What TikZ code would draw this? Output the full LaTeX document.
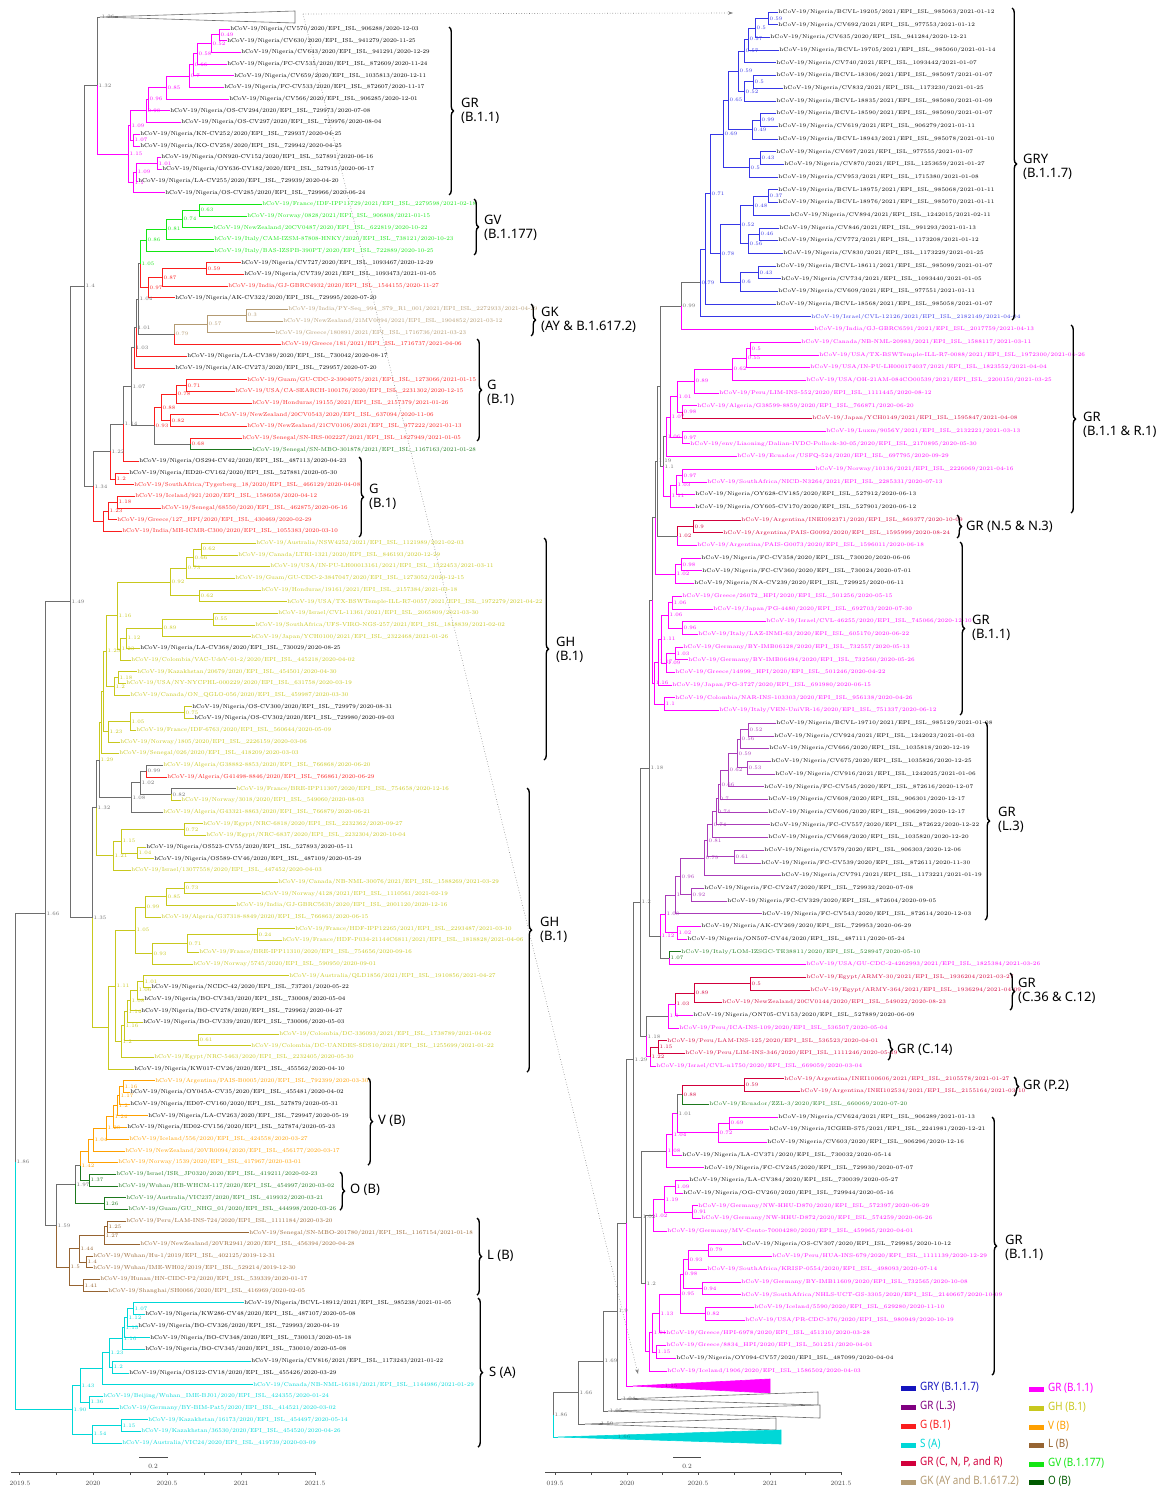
\documentclass[tikz,border=0pt]{standalone}
\usepackage{fontspec}
\usepackage{graphicx}
\usetikzlibrary{calc,decorations.pathreplacing,arrows.meta}
\newfontfamily\cladefont{Noto Sans}
\definecolor{treegray}{RGB}{110,110,110}
\definecolor{cGRY}{RGB}{55,55,230}
\definecolor{cGR}{RGB}{255,0,255}
\definecolor{cL3}{RGB}{170,60,185}
\definecolor{cG}{RGB}{250,30,30}
\definecolor{cGH}{RGB}{200,200,30}
\definecolor{cS}{RGB}{0,215,215}
\definecolor{cV}{RGB}{255,160,0}
\definecolor{cCNPR}{RGB}{210,0,60}
\definecolor{cL}{RGB}{150,100,50}
\definecolor{cGK}{RGB}{180,155,115}
\definecolor{cGV}{RGB}{20,230,20}
\definecolor{cO}{RGB}{30,120,30}
\definecolor{legGRY}{RGB}{20,20,190}
\definecolor{legL3}{RGB}{128,0,128}
\definecolor{legO}{RGB}{0,90,0}
\tikzset{
  branch/.style    = {line width=0.7pt},
  leaf/.style      = {anchor=west, inner sep=0.6pt, font=\fontsize{5.75}{6.5}\selectfont},
  rleaf/.style     = {leaf, font=\fontsize{5.4}{6.5}\selectfont},
  supval/.style    = {anchor=west, inner sep=0.5pt, xshift=1pt, font=\fontsize{5.2}{6}\selectfont},
  clade/.style     = {anchor=west, align=left, inner sep=0pt,
                      font=\cladefont\fontsize{13}{13.5}\selectfont},
  cladebrace/.style= {decorate, decoration={brace, amplitude=4.5pt}, line width=1.4pt},
  collapsed/.style = {draw=treegray, line width=0.6pt},
  zoomline/.style  = {draw=gray, dotted, line width=0.6pt, -{Stealth[length=5pt,width=3.5pt]}},
  legbar/.style    = {minimum width=15pt, minimum height=5pt, inner sep=0pt},
  legtext/.style   = {anchor=west, inner sep=0pt, font=\cladefont\fontsize{11.5}{12}\selectfont},
  axisline/.style  = {draw=black!70, line width=0.5pt},
  axislab/.style   = {text=black!75, inner sep=0pt, font=\fontsize{6.5}{7}\selectfont}
}
% leaf of the left tree: row, x, text colour, name, EPI number, date
\newcommand{\lfl}[6]{%
  \coordinate (lf#1) at ({#2-1.5},{29+(#1-1)*11.686});
  \node[leaf,text=#3] (lf#1-t) at (lf#1) {hCoV-19/#4/EPI\_ISL\_#5/#6};}
% leaf of the right tree
\newcommand{\lfr}[6]{%
  \coordinate (rt#1) at ({#2-1.5},{12+(#1-1)*12.7});
  \node[rleaf,text=#3] (rt#1-t) at (rt#1) {hCoV-19/#4/EPI\_ISL\_#5/#6};}
% inner node: name, x, child 1, colour, child 2, colour, support value
\newcommand{\cl}[7]{%
  \path let \p1=($(#3)!0.5!(#5)$) in coordinate (#1) at (#2pt,\y1);
  \draw[branch,#4] (#1) |- (#3);
  \draw[branch,#6] (#1) |- (#5);
  \node[supval,text=#4] (#1-s) at (#1) {#7};}

\begin{document}
\begin{tikzpicture}[x=1pt,y=-1pt]
\useasboundingbox (0,0) rectangle (1163,1490);

% ---------------- left tree, leaves
\lfl{1}{231}{black}{Nigeria/CV570/2020}{906288}{2020-12-03}
\lfl{2}{228}{black}{Nigeria/CV630/2020}{941279}{2020-11-25}
\lfl{3}{242}{black}{Nigeria/CV643/2020}{941291}{2020-12-29}
\lfl{4}{228}{black}{Nigeria/FC-CV535/2020}{872609}{2020-11-24}
\lfl{5}{235}{black}{Nigeria/CV659/2020}{1035813}{2020-12-11}
\lfl{6}{225}{black}{Nigeria/FC-CV533/2020}{872607}{2020-11-17}
\lfl{7}{230}{black}{Nigeria/CV566/2020}{906285}{2020-12-01}
\lfl{8}{171}{black}{Nigeria/OS-CV294/2020}{729973}{2020-07-08}
\lfl{9}{182}{black}{Nigeria/OS-CV297/2020}{729976}{2020-08-04}
\lfl{10}{141}{black}{Nigeria/KN-CV252/2020}{729937}{2020-04-25}
\lfl{11}{141}{black}{Nigeria/KO-CV258/2020}{729942}{2020-04-25}
\lfl{12}{162}{black}{Nigeria/ON920-CV152/2020}{527891}{2020-06-16}
\lfl{13}{163}{black}{Nigeria/OY636-CV182/2020}{527915}{2020-06-17}
\lfl{14}{139}{black}{Nigeria/LA-CV255/2020}{729939}{2020-04-20}
\lfl{15}{166}{black}{Nigeria/OS-CV285/2020}{729966}{2020-06-24}
\lfl{16}{263}{cGV}{France/IDF-IPP11729/2021}{2279598}{2021-02-18}
\lfl{17}{248}{cGV}{Norway/0828/2021}{906808}{2021-01-15}
\lfl{18}{214}{cGV}{NewZealand/20CV0487/2020}{622819}{2020-10-22}
\lfl{19}{215}{cGV}{Italy/CAM-IZSM-87808-HNKY/2020}{738121}{2020-10-23}
\lfl{20}{215}{cGV}{Italy/BAS-IZSPB-390PT/2020}{722889}{2020-10-25}
\lfl{21}{242}{black}{Nigeria/CV727/2020}{1093467}{2020-12-29}
\lfl{22}{245}{black}{Nigeria/CV739/2021}{1093473}{2021-01-05}
\lfl{23}{229}{cG}{India/GJ-GBRC4932/2020}{1544155}{2020-11-27}
\lfl{24}{176}{black}{Nigeria/AK-CV322/2020}{729995}{2020-07-20}
\lfl{25}{289}{cGK}{India/PY-Seq\_994\_S79\_R1\_001/2021}{2272933}{2021-04-29}
\lfl{26}{284}{cGK}{NewZealand/21MV0094/2021}{1904852}{2021-03-12}
\lfl{27}{276}{cGK}{Greece/180891/2021}{1716736}{2021-03-23}
\lfl{28}{282}{cG}{Greece/181/2021}{1716737}{2021-04-06}
\lfl{29}{188}{black}{Nigeria/LA-CV389/2020}{730042}{2020-08-17}
\lfl{30}{176}{black}{Nigeria/AK-CV273/2020}{729957}{2020-07-20}
\lfl{31}{248}{cG}{Guam/GU-CDC-2-3904075/2021}{1273066}{2021-01-15}
\lfl{32}{236}{cG}{USA/CA-SEARCH-100176/2020}{2231302}{2020-12-15}
\lfl{33}{253}{cG}{Honduras/19155/2021}{2157379}{2021-01-26}
\lfl{34}{220}{cG}{NewZealand/20CV0543/2020}{637094}{2020-11-06}
\lfl{35}{248}{cG}{NewZealand/21CV0106/2021}{977222}{2021-01-13}
\lfl{36}{243}{cG}{Senegal/SN-IRS-002227/2021}{1827949}{2021-01-05}
\lfl{37}{253}{cO}{Senegal/SN-MBO-301878/2021}{1167163}{2021-01-28}
\lfl{38}{140}{black}{Nigeria/OS294-CV42/2020}{487113}{2020-04-23}
\lfl{39}{130}{black}{Nigeria/ED20-CV162/2020}{527881}{2020-05-30}
\lfl{40}{135}{cG}{SouthAfrica/Tygerberg\_18/2020}{466129}{2020-04-08}
\lfl{41}{136}{cG}{Iceland/921/2020}{1586058}{2020-04-12}
\lfl{42}{162}{cG}{Senegal/68550/2020}{462875}{2020-06-16}
\lfl{43}{118}{cG}{Greece/127\_HPI/2020}{430469}{2020-02-29}
\lfl{44}{123}{cG}{India/MH-ICMR-C300/2020}{1055383}{2020-03-10}
\lfl{45}{257}{cGH}{Australia/NSW4252/2021}{1121989}{2021-02-03}
\lfl{46}{239}{cGH}{Canada/LTRI-1321/2020}{846193}{2020-12-29}
\lfl{47}{271}{cGH}{USA/IN-PU-LH00013161/2021}{1522453}{2021-03-11}
\lfl{48}{236}{cGH}{Guam/GU-CDC-2-3847047/2020}{1273052}{2020-12-15}
\lfl{49}{262}{cGH}{Honduras/19161/2021}{2157384}{2021-03-18}
\lfl{50}{288}{cGH}{USA/TX-BSWTemple-ILL-R7-0057/2021}{1972279}{2021-04-22}
\lfl{51}{279}{cGH}{Israel/CVL-11361/2021}{2065809}{2021-03-30}
\lfl{52}{256}{cGH}{SouthAfrica/UFS-VIRO-NGS-257/2021}{1818839}{2021-02-02}
\lfl{53}{252}{cGH}{Japan/YCH0100/2021}{2322468}{2021-01-26}
\lfl{54}{141}{black}{Nigeria/LA-CV368/2020}{730029}{2020-08-25}
\lfl{55}{132}{cGH}{Colombia/VAC-UdeV-01-2/2020}{445218}{2020-04-02}
\lfl{56}{138}{cGH}{Kazakhstan/20679/2020}{454501}{2020-04-30}
\lfl{57}{127}{cGH}{USA/NY-NYCPHL-000229/2020}{631758}{2020-03-19}
\lfl{58}{131}{cGH}{Canada/ON\_QGLO-056/2020}{459987}{2020-03-30}
\lfl{59}{193}{black}{Nigeria/OS-CV300/2020}{729979}{2020-08-31}
\lfl{60}{195}{black}{Nigeria/OS-CV302/2020}{729980}{2020-09-03}
\lfl{61}{137}{cGH}{France/IDF-6763/2020}{560644}{2020-05-09}
\lfl{62}{121}{cGH}{Norway/1805/2020}{2226159}{2020-03-06}
\lfl{63}{120}{cGH}{Senegal/026/2020}{418209}{2020-03-03}
\lfl{64}{164}{cGH}{Algeria/G38882-8853/2020}{766868}{2020-06-20}
\lfl{65}{168}{cG}{Algeria/G41498-8846/2020}{766861}{2020-06-29}
\lfl{66}{237}{cGH}{France/BRE-IPP11307/2020}{754658}{2020-12-16}
\lfl{67}{182}{cGH}{Norway/3018/2020}{549060}{2020-08-03}
\lfl{68}{164}{cGH}{Algeria/G43321-8863/2020}{766879}{2020-06-21}
\lfl{69}{204}{cGH}{Egypt/NRC-6818/2020}{2232362}{2020-09-27}
\lfl{70}{207}{cGH}{Egypt/NRC-6837/2020}{2232304}{2020-10-04}
\lfl{71}{147}{black}{Nigeria/OS523-CV55/2020}{527893}{2020-05-11}
\lfl{72}{155}{black}{Nigeria/OS589-CV46/2020}{487109}{2020-05-29}
\lfl{73}{132}{cGH}{Israel/13077558/2020}{447452}{2020-04-03}
\lfl{74}{279}{cGH}{Canada/NB-NML-30076/2021}{1588269}{2021-03-29}
\lfl{75}{262}{cGH}{Norway/4128/2021}{1110561}{2021-02-19}
\lfl{76}{237}{cGH}{India/GJ-GBRC563b/2020}{2001120}{2020-12-16}
\lfl{77}{162}{cGH}{Algeria/G37318-8849/2020}{766863}{2020-06-15}
\lfl{78}{296}{cGH}{France/HDF-IPP12265/2021}{2293487}{2021-03-10}
\lfl{79}{283}{cGH}{France/HDF-P034-21144C6811/2021}{1818828}{2021-04-06}
\lfl{80}{200}{cGH}{France/BRE-IPP11310/2020}{754656}{2020-09-16}
\lfl{81}{194}{cGH}{Norway/5745/2020}{590950}{2020-09-01}
\lfl{82}{290}{cGH}{Australia/QLD1856/2021}{1910856}{2021-04-27}
\lfl{83}{152}{black}{Nigeria/NCDC-42/2020}{737201}{2020-05-22}
\lfl{84}{145}{black}{Nigeria/BO-CV343/2020}{730008}{2020-05-04}
\lfl{85}{142}{black}{Nigeria/BO-CV278/2020}{729962}{2020-04-27}
\lfl{86}{144}{black}{Nigeria/BO-CV339/2020}{730006}{2020-05-03}
\lfl{87}{280}{cGH}{Colombia/DC-336093/2021}{1738789}{2021-04-02}
\lfl{88}{252}{cGH}{Colombia/DC-UANDES-SDS10/2021}{1255699}{2021-01-22}
\lfl{89}{155}{cGH}{Egypt/NRC-5463/2020}{2232405}{2020-05-30}
\lfl{90}{135}{black}{Nigeria/KW017-CV26/2020}{455562}{2020-04-10}
\lfl{91}{156}{cV}{Argentina/PAIS-B0005/2020}{792399}{2020-03-30}
\lfl{92}{131}{black}{Nigeria/OY045A-CV35/2020}{455481}{2020-04-02}
\lfl{93}{131}{black}{Nigeria/ED07-CV160/2020}{527879}{2020-05-31}
\lfl{94}{149}{black}{Nigeria/LA-CV263/2020}{729947}{2020-05-19}
\lfl{95}{128}{black}{Nigeria/ED02-CV156/2020}{527874}{2020-05-23}
\lfl{96}{130}{cV}{Iceland/556/2020}{424558}{2020-03-27}
\lfl{97}{126}{cV}{NewZealand/20VR0094/2020}{456177}{2020-03-17}
\lfl{98}{119}{cV}{Norway/1539/2020}{417967}{2020-03-01}
\lfl{99}{117}{cO}{Israel/ISR\_JP0320/2020}{419211}{2020-02-23}
\lfl{100}{119}{cO}{Wuhan/HB-WHCM-117/2020}{454997}{2020-03-02}
\lfl{101}{127}{cO}{Australia/VIC237/2020}{419932}{2020-03-21}
\lfl{102}{129}{cO}{Guam/GU\_NHG\_01/2020}{444998}{2020-03-26}
\lfl{103}{127}{cL}{Peru/LAM-INS-724/2020}{1111184}{2020-03-20}
\lfl{104}{250}{cL}{Senegal/SN-MBO-201780/2021}{1167154}{2021-01-18}
\lfl{105}{141}{cL}{NewZealand/20VR2941/2020}{456394}{2020-04-28}
\lfl{106}{94}{cL}{Wuhan/Hu-1/2019}{402125}{2019-12-31}
\lfl{107}{94}{cL}{Wuhan/IME-WH02/2019}{529214}{2019-12-30}
\lfl{108}{101}{cL}{Hunan/HN-CIDC-P2/2020}{539339}{2020-01-17}
\lfl{109}{109}{cL}{Shanghai/SH0066/2020}{416969}{2020-02-05}
\lfl{110}{245}{black}{Nigeria/BCVL-18912/2021}{985238}{2021-01-05}
\lfl{111}{146}{black}{Nigeria/KW286-CV48/2020}{487107}{2020-05-08}
\lfl{112}{139}{black}{Nigeria/BO-CV326/2020}{729993}{2020-04-19}
\lfl{113}{151}{black}{Nigeria/BO-CV348/2020}{730013}{2020-05-18}
\lfl{114}{146}{black}{Nigeria/BO-CV345/2020}{730010}{2020-05-08}
\lfl{115}{252}{black}{Nigeria/CV816/2021}{1173243}{2021-01-22}
\lfl{116}{130}{black}{Nigeria/OS122-CV18/2020}{455426}{2020-03-29}
\lfl{117}{254}{cS}{Canada/NB-NML-16181/2021}{1144986}{2021-01-29}
\lfl{118}{104}{cS}{Beijing/Wuhan\_IME-BJ01/2020}{424355}{2020-01-24}
\lfl{119}{120}{cS}{Germany/BY-BIM-Pat5/2020}{414521}{2020-03-02}
\lfl{120}{149}{cS}{Kazakhstan/16173/2020}{454497}{2020-05-14}
\lfl{121}{142}{cS}{Kazakhstan/36530/2020}{454520}{2020-04-26}
\lfl{122}{123}{cS}{Australia/VIC24/2020}{419739}{2020-03-09}

% ---------------- left tree, inner nodes
\coordinate (gryApex) at (100,17);
\draw[collapsed,fill=white] (gryApex) -- (295,11) -- (295,23) -- cycle;
\node[supval,text=treegray] (gry-s) at (gryApex) {1.26};
\cl{pA}{219}{lf1}{cGR}{lf2}{cGR}{0.49}
\cl{pB}{211}{pA}{cGR}{lf3}{cGR}{0.52}
\cl{pC}{197}{pB}{cGR}{lf4}{cGR}{0.58}
\cl{pD}{193}{pC}{cGR}{lf5}{cGR}{0.66}
\cl{pE}{189}{pD}{cGR}{lf6}{cGR}{0.7}
\cl{pF}{166}{pE}{cGR}{lf7}{cGR}{0.85}
\cl{pG}{148}{pF}{cGR}{lf8}{cGR}{0.96}
\cl{pH}{146}{pG}{cGR}{lf9}{cGR}{0.98}
\cl{pI}{133}{lf10}{cGR}{lf11}{cGR}{1.07}
\cl{pJ}{130}{pH}{cGR}{pI}{cGR}{1.09}
\cl{pK}{157}{lf12}{cGR}{lf13}{cGR}{1.01}
\cl{pL}{136}{pK}{cGR}{lf14}{cGR}{1.09}
\cl{pM}{133}{pL}{cGR}{lf15}{cGR}{1.1}
\cl{pR}{128}{pJ}{cGR}{pM}{cGR}{1.15}
\cl{N1}{97}{gryApex}{treegray}{pR}{cGR}{1.32}
\cl{v1}{199}{lf16}{cGV}{lf17}{cGV}{0.63}
\cl{v2}{182}{v1}{cGV}{lf18}{cGV}{0.74}
\cl{v3}{166}{v2}{cGV}{lf19}{cGV}{0.81}
\cl{v4}{146}{v3}{cGV}{lf20}{cGV}{0.86}
\cl{g21}{206}{lf21}{cG}{lf22}{cG}{0.59}
\cl{g22}{162}{g21}{cG}{lf23}{cG}{0.87}
\cl{g23}{148}{g22}{cG}{lf24}{cG}{0.97}
\cl{v5}{140}{v4}{cGV}{g23}{cG}{1.05}
\cl{k1}{246}{lf25}{cGK}{lf26}{cGK}{0.3}
\cl{k2}{207}{k1}{cGK}{lf27}{cGK}{0.57}
\cl{k3}{174}{k2}{cGK}{lf28}{cG}{0.79}
\cl{g24}{138}{v5}{treegray}{k3}{treegray}{1.04}
\cl{g25}{136}{g24}{treegray}{lf29}{cG}{1.01}
\cl{g26}{134}{g25}{treegray}{lf30}{cG}{1.03}
\cl{q1}{186}{lf31}{cG}{lf32}{cG}{0.71}
\cl{q2}{176}{q1}{cG}{lf33}{cG}{0.78}
\cl{q3}{170}{lf34}{cG}{lf35}{cG}{0.82}
\cl{q4}{161}{q2}{cG}{q3}{cG}{0.88}
\cl{q5}{190}{lf36}{cG}{lf37}{cO}{0.68}
\cl{q6}{154}{q4}{cG}{q5}{treegray}{0.93}
\cl{G1b}{131}{g26}{treegray}{q6}{treegray}{1.07}
\cl{G1}{123}{G1b}{treegray}{lf38}{cG}{1.14}
\cl{g39}{115}{lf39}{cG}{lf40}{cG}{1.2}
\cl{G0}{110}{G1}{treegray}{g39}{cG}{1.22}
\cl{g41}{117}{lf41}{cG}{lf42}{cG}{1.18}
\cl{g43}{108}{g41}{cG}{lf43}{cG}{1.23}
\cl{g44}{103}{g43}{cG}{lf44}{cG}{}
\cl{N3}{93}{G0}{treegray}{g44}{cG}{1.34}
\cl{N2}{84}{N1}{treegray}{N3}{treegray}{1.4}
\cl{y1}{201}{lf45}{cGH}{lf46}{cGH}{0.62}
\cl{y2}{193}{y1}{cGH}{lf47}{cGH}{0.66}
\cl{y3}{186}{y2}{cGH}{lf48}{cGH}{0.73}
\cl{y4}{199}{lf49}{cGH}{lf50}{cGH}{0.62}
\cl{y5}{170}{y3}{cGH}{y4}{cGH}{0.92}
\cl{y6}{213}{lf51}{cGH}{lf52}{cGH}{0.55}
\cl{y7}{162}{y6}{cGH}{lf53}{cGH}{0.89}
\cl{y8}{126}{y7}{cGH}{lf54}{cGH}{1.12}
\cl{y9}{120}{y8}{cGH}{lf55}{cGH}{1.23}
\cl{y10}{117}{y5}{cGH}{y9}{cGH}{1.16}
\cl{y11}{118}{lf56}{cGH}{lf57}{cGH}{1.18}
\cl{y12}{114}{y11}{cGH}{lf58}{cGH}{1.2}
\cl{y13}{106}{y10}{cGH}{y12}{cGH}{1.25}
\cl{y14}{184}{lf59}{cGH}{lf60}{cGH}{0.75}
\cl{y15}{130}{y14}{cGH}{lf61}{cGH}{1.05}
\cl{y16}{108}{y15}{cGH}{lf62}{cGH}{1.23}
\cl{y17}{103}{y13}{cGH}{y16}{cGH}{}
\cl{y18}{101}{y17}{cGH}{lf63}{cGH}{}
\cl{y19}{146}{lf64}{treegray}{lf65}{cG}{0.99}
\cl{y20}{171}{lf66}{treegray}{lf67}{cGH}{0.82}
\cl{y21}{140}{y19}{treegray}{y20}{treegray}{1.02}
\cl{y22}{131}{y21}{treegray}{lf68}{treegray}{1.08}
\cl{y23}{99}{y18}{cGH}{y22}{treegray}{1.29}
\cl{y24}{184}{lf69}{cGH}{lf70}{cGH}{0.72}
\cl{y25}{137}{lf71}{cGH}{lf72}{cGH}{1.04}
\cl{y26}{121}{y24}{cGH}{y25}{cGH}{1.15}
\cl{y27}{113}{y26}{cGH}{lf73}{cGH}{1.21}
\cl{y28}{96}{y23}{treegray}{y27}{cGH}{1.32}
\cl{z1}{184}{lf74}{cGH}{lf75}{cGH}{0.73}
\cl{z2}{166}{z1}{cGH}{lf76}{cGH}{0.85}
\cl{z3}{145}{z2}{cGH}{lf77}{cGH}{0.99}
\cl{z4}{257}{lf78}{cGH}{lf79}{cGH}{0.24}
\cl{z5}{187}{z4}{cGH}{lf80}{cGH}{0.71}
\cl{z6}{152}{z5}{cGH}{lf81}{cGH}{0.93}
\cl{z7}{135}{z3}{cGH}{z6}{cGH}{1.05}
\cl{z8}{143}{lf82}{cGH}{lf83}{cGH}{1.01}
\cl{z9}{137}{z8}{cGH}{lf84}{cGH}{1.06}
\cl{z10}{130}{z9}{cGH}{lf85}{cGH}{1.08}
\cl{z11}{127}{z10}{cGH}{lf86}{cGH}{1.14}
\cl{z12}{198}{lf87}{cGH}{lf88}{cGH}{0.61}
\cl{z13}{124}{z11}{cGH}{z12}{cGH}{1.16}
\cl{z14}{121}{z13}{cGH}{lf89}{cGH}{1.2}
\cl{z15}{115}{z7}{cGH}{z14}{cGH}{1.11}
\cl{z16}{108}{z15}{cGH}{lf90}{cGH}{}
\cl{N5}{92}{y28}{treegray}{z16}{cGH}{1.35}
\cl{N4}{70}{N2}{treegray}{N5}{treegray}{1.49}
\cl{o1}{123}{lf91}{cV}{lf92}{cV}{1.16}
\cl{o2}{119}{o1}{cV}{lf93}{cV}{1.17}
\cl{o3}{117}{o2}{cV}{lf94}{cV}{1.2}
\cl{o4}{113}{o3}{cV}{lf95}{cV}{1.24}
\cl{o5}{106}{o4}{cV}{lf96}{cV}{1.28}
\cl{o6}{93}{o5}{cV}{lf97}{cV}{1.04}
\cl{o7}{88}{o6}{cV}{lf98}{cV}{}
\cl{d1}{89}{lf99}{cO}{lf100}{cO}{1.37}
\cl{d2}{104}{lf101}{cO}{lf102}{cO}{1.26}
\cl{vo1}{80}{o7}{cV}{d1}{cO}{1.42}
\cl{vo2}{75}{vo1}{treegray}{d2}{cO}{1.97}
\cl{l1}{107}{lf103}{cL}{lf104}{cL}{1.25}
\cl{l2}{104}{l1}{cL}{lf105}{cL}{1.27}
\cl{l3}{86}{lf106}{cL}{lf107}{cL}{1.4}
\cl{l4}{79}{l2}{cL}{l3}{cL}{1.44}
\cl{l5}{83}{lf108}{cL}{lf109}{cL}{1.41}
\cl{l6}{69}{l4}{cL}{l5}{cL}{1.5}
\cl{C}{56}{vo2}{treegray}{l6}{cL}{1.59}
\cl{A}{45}{N4}{treegray}{C}{treegray}{1.66}
\cl{s1}{133}{lf110}{cS}{lf111}{cS}{1.07}
\cl{s2}{127}{s1}{cS}{lf112}{cS}{1.12}
\cl{s3}{124}{s2}{cS}{lf113}{cS}{1.15}
\cl{s4}{122}{s3}{cS}{lf114}{cS}{1.16}
\cl{s5}{112}{lf115}{cS}{lf116}{cS}{1.2}
\cl{s6}{109}{s4}{cS}{s5}{cS}{1.23}
\cl{s7}{102}{s6}{cS}{lf117}{cS}{}
\cl{s8}{89}{lf118}{cS}{lf119}{cS}{1.36}
\cl{s9}{80}{s7}{cS}{s8}{cS}{1.43}
\cl{s10}{121}{lf120}{cS}{lf121}{cS}{1.15}
\cl{s11}{92}{s10}{cS}{lf122}{cS}{1.54}
\cl{s12}{72}{s9}{cS}{s11}{cS}{1.90}
\cl{R}{15}{A}{treegray}{s12}{cS}{1.86}

% ---------------- right tree, leaves
\lfr{1}{779}{black}{Nigeria/BCVL-19205/2021}{985063}{2021-01-12}
\lfr{2}{779}{black}{Nigeria/CV692/2021}{977553}{2021-01-12}
\lfr{3}{771}{black}{Nigeria/CV635/2020}{941284}{2020-12-21}
\lfr{4}{780}{black}{Nigeria/BCVL-19705/2021}{985060}{2021-01-14}
\lfr{5}{777}{black}{Nigeria/CV740/2021}{1093442}{2021-01-07}
\lfr{6}{777}{black}{Nigeria/BCVL-18306/2021}{985097}{2021-01-07}
\lfr{7}{784}{black}{Nigeria/CV832/2021}{1173230}{2021-01-25}
\lfr{8}{777}{black}{Nigeria/BCVL-18835/2021}{985080}{2021-01-09}
\lfr{9}{777}{black}{Nigeria/BCVL-18590/2021}{985090}{2021-01-07}
\lfr{10}{779}{black}{Nigeria/CV619/2021}{906279}{2021-01-11}
\lfr{11}{779}{black}{Nigeria/BCVL-18943/2021}{985078}{2021-01-10}
\lfr{12}{777}{black}{Nigeria/CV697/2021}{977555}{2021-01-07}
\lfr{13}{785}{black}{Nigeria/CV870/2021}{1253659}{2021-01-27}
\lfr{14}{779}{black}{Nigeria/CV953/2021}{1715380}{2021-01-08}
\lfr{15}{779}{black}{Nigeria/BCVL-18975/2021}{985068}{2021-01-11}
\lfr{16}{779}{black}{Nigeria/BCVL-18976/2021}{985070}{2021-01-11}
\lfr{17}{791}{black}{Nigeria/CV894/2021}{1242015}{2021-02-11}
\lfr{18}{780}{black}{Nigeria/CV846/2021}{991293}{2021-01-13}
\lfr{19}{779}{black}{Nigeria/CV772/2021}{1173208}{2021-01-12}
\lfr{20}{784}{black}{Nigeria/CV830/2021}{1173229}{2021-01-25}
\lfr{21}{777}{black}{Nigeria/BCVL-18611/2021}{985099}{2021-01-07}
\lfr{22}{782}{black}{Nigeria/CV734/2021}{1093440}{2021-01-05}
\lfr{23}{779}{black}{Nigeria/CV609/2021}{977551}{2021-01-11}
\lfr{24}{777}{black}{Nigeria/BCVL-18568/2021}{985058}{2021-01-07}
\lfr{25}{812}{cGRY}{Israel/CVL-12126/2021}{2182149}{2021-04-04}
\lfr{26}{815}{cGR}{India/GJ-GBRC6591/2021}{2017759}{2021-04-13}
\lfr{27}{802}{cGR}{Canada/NB-NML-20983/2021}{1588117}{2021-03-11}
\lfr{28}{820}{cGR}{USA/TX-BSWTemple-ILL-R7-0088/2021}{1972300}{2021-04-26}
\lfr{29}{811}{cGR}{USA/IN-PU-LH000174037/2021}{1823552}{2021-04-04}
\lfr{30}{807}{cGR}{USA/OH-21AM-084CO00539/2021}{2200150}{2021-03-25}
\lfr{31}{720}{cGR}{Peru/LIM-INS-552/2020}{1111445}{2020-08-12}
\lfr{32}{698}{cGR}{Algeria/G38599-8859/2020}{766871}{2020-06-20}
\lfr{33}{813}{cCNPR}{Japan/YCH0149/2021}{1595847}{2021-04-08}
\lfr{34}{827}{cGR}{Luxm/9056Y/2021}{2132221}{2021-03-13}
\lfr{35}{691}{cGR}{env/Liaoning/Dalian-IVDC-Pollock-30-05/2020}{2170895}{2020-05-30}
\lfr{36}{738}{cGR}{Ecuador/USFQ-524/2020}{697795}{2020-09-29}
\lfr{37}{816}{cGR}{Norway/10136/2021}{2226069}{2021-04-16}
\lfr{38}{708}{cGR}{SouthAfrica/NICD-N3264/2021}{2285331}{2020-07-13}
\lfr{39}{696}{black}{Nigeria/OY628-CV185/2020}{527912}{2020-06-13}
\lfr{40}{696}{black}{Nigeria/OY605-CV170/2020}{527901}{2020-06-12}
\lfr{41}{742}{cCNPR}{Argentina/INEI092371/2020}{869377}{2020-10-09}
\lfr{42}{724}{cCNPR}{Argentina/PAIS-G0092/2020}{1595999}{2020-08-24}
\lfr{43}{698}{cGR}{Argentina/PAIS-G0073/2020}{1596011}{2020-06-18}
\lfr{44}{702}{black}{Nigeria/FC-CV358/2020}{730020}{2020-06-06}
\lfr{45}{703}{black}{Nigeria/FC-CV360/2020}{730024}{2020-07-01}
\lfr{46}{695}{black}{Nigeria/NA-CV239/2020}{729925}{2020-06-11}
\lfr{47}{683}{cGR}{Greece/26072\_HPI/2020}{501256}{2020-05-15}
\lfr{48}{714}{cGR}{Japan/PG-4480/2020}{692703}{2020-07-30}
\lfr{49}{767}{cGR}{Israel/CVL-46255/2020}{745066}{2020-12-10}
\lfr{50}{699}{cGR}{Italy/LAZ-INMI-63/2020}{605170}{2020-06-22}
\lfr{51}{684}{cGR}{Germany/BY-IMB06128/2020}{732557}{2020-05-13}
\lfr{52}{689}{cGR}{Germany/BY-IMB06494/2020}{732560}{2020-05-26}
\lfr{53}{676}{cGR}{Greece/14999\_HPI/2020}{501246}{2020-04-22}
\lfr{54}{673}{cGR}{Japan/PG-3727/2020}{691980}{2020-06-15}
\lfr{55}{676}{cGR}{Colombia/NAR-INS-103303/2020}{956138}{2020-04-26}
\lfr{56}{720}{cGR}{Italy/VEN-UniVR-16/2020}{751337}{2020-06-12}
\lfr{57}{777}{black}{Nigeria/BCVL-19710/2021}{985129}{2021-01-08}
\lfr{58}{775}{black}{Nigeria/CV924/2021}{1242023}{2021-01-03}
\lfr{59}{770}{black}{Nigeria/CV666/2020}{1035818}{2020-12-19}
\lfr{60}{772}{black}{Nigeria/CV675/2020}{1035826}{2020-12-25}
\lfr{61}{776}{black}{Nigeria/CV916/2021}{1242025}{2021-01-06}
\lfr{62}{765}{black}{Nigeria/FC-CV545/2020}{872616}{2020-12-07}
\lfr{63}{769}{black}{Nigeria/CV608/2020}{906301}{2020-12-17}
\lfr{64}{769}{black}{Nigeria/CV606/2020}{906299}{2020-12-17}
\lfr{65}{771}{black}{Nigeria/FC-CV557/2020}{872622}{2020-12-22}
\lfr{66}{769}{black}{Nigeria/CV668/2020}{1035820}{2020-12-20}
\lfr{67}{765}{black}{Nigeria/CV579/2020}{906303}{2020-12-06}
\lfr{68}{762}{black}{Nigeria/FC-CV539/2020}{872611}{2020-11-30}
\lfr{69}{782}{black}{Nigeria/CV791/2021}{1173221}{2021-01-19}
\lfr{70}{705}{black}{Nigeria/FC-CV247/2020}{729932}{2020-07-08}
\lfr{71}{728}{black}{Nigeria/FC-CV329/2020}{872604}{2020-09-05}
\lfr{72}{763}{black}{Nigeria/FC-CV543/2020}{872614}{2020-12-03}
\lfr{73}{702}{black}{Nigeria/AK-CV269/2020}{729953}{2020-06-29}
\lfr{74}{688}{black}{Nigeria/ON507-CV44/2020}{487111}{2020-05-24}
\lfr{75}{682}{cO}{Italy/LOM-IZSGC-TE38811/2020}{528947}{2020-05-10}
\lfr{76}{807}{cGR}{USA/GU-CDC-2-4262993/2021}{1825384}{2021-03-26}
\lfr{77}{807}{cCNPR}{Egypt/ARMY-30/2021}{1936204}{2021-03-27}
\lfr{78}{811}{cCNPR}{Egypt/ARMY-364/2021}{1936294}{2021-04-09}
\lfr{79}{723}{cCNPR}{NewZealand/20CV0144/2020}{549022}{2020-08-23}
\lfr{80}{694}{black}{Nigeria/ON705-CV153/2020}{527889}{2020-06-09}
\lfr{81}{680}{cGR}{Peru/ICA-INS-109/2020}{536507}{2020-05-04}
\lfr{82}{668}{cCNPR}{Peru/LAM-INS-125/2020}{536523}{2020-04-01}
\lfr{83}{686}{cCNPR}{Peru/LIM-INS-346/2020}{1111246}{2020-05-19}
\lfr{84}{657}{cGR}{Israel/CVL-n1750/2020}{669059}{2020-03-04}
\lfr{85}{785}{cCNPR}{Argentina/INEI100606/2021}{2105578}{2021-01-27}
\lfr{86}{801}{cCNPR}{Argentina/INEI102534/2021}{2155164}{2021-03-10}
\lfr{87}{710}{cO}{Ecuador/ZZL-3/2020}{660069}{2020-07-20}
\lfr{88}{779}{black}{Nigeria/CV624/2021}{906289}{2021-01-13}
\lfr{89}{770}{black}{Nigeria/ICGEB-S75/2021}{2241981}{2020-12-21}
\lfr{90}{768}{black}{Nigeria/CV603/2020}{906296}{2020-12-16}
\lfr{91}{683}{black}{Nigeria/LA-CV371/2020}{730032}{2020-05-14}
\lfr{92}{705}{black}{Nigeria/FC-CV245/2020}{729930}{2020-07-07}
\lfr{93}{690}{black}{Nigeria/LA-CV384/2020}{730039}{2020-05-27}
\lfr{94}{684}{black}{Nigeria/OG-CV260/2020}{729944}{2020-05-16}
\lfr{95}{699}{cGR}{Germany/NW-HHU-D870/2020}{572397}{2020-06-29}
\lfr{96}{702}{cGR}{Germany/NW-HHU-D872/2020}{574259}{2020-06-26}
\lfr{97}{668}{cGR}{Germany/MV-Cento-70004280/2020}{459965}{2020-04-01}
\lfr{98}{743}{black}{Nigeria/OS-CV307/2020}{729985}{2020-10-12}
\lfr{99}{773}{cGR}{Peru/HUA-INS-679/2020}{1111139}{2020-12-29}
\lfr{100}{708}{cGR}{SouthAfrica/KRISP-0554/2020}{498093}{2020-07-14}
\lfr{101}{742}{cGR}{Germany/BY-IMB11609/2020}{732565}{2020-10-08}
\lfr{102}{742}{cGR}{SouthAfrica/NHLS-UCT-GS-3305/2020}{2140667}{2020-10-09}
\lfr{103}{755}{cGR}{Iceland/5590/2020}{629280}{2020-11-10}
\lfr{104}{746}{cGR}{USA/PR-CDC-376/2020}{980949}{2020-10-19}
\lfr{105}{667}{cGR}{Greece/HPI-6978/2020}{451310}{2020-03-28}
\lfr{106}{667}{cGR}{Greece/8834\_HPI/2020}{501251}{2020-04-01}
\lfr{107}{677}{black}{Nigeria/OY094-CV57/2020}{487099}{2020-04-04}
\lfr{108}{668}{cGR}{Iceland/1906/2020}{1586502}{2020-04-03}

% ---------------- right tree, collapsed clades
\coordinate (magApex) at (633,1386);
\coordinate (w1Apex) at (621,1399);
\coordinate (w2Apex) at (608,1411);
\coordinate (w3Apex) at (585,1424);
\coordinate (cyApex) at (558,1437);
\draw[collapsed,draw=cGR,fill=cGR] (magApex) -- (770,1379) -- (770,1393) -- cycle;
\draw[collapsed,fill=white] (w1Apex) -- (818,1392) -- (818,1405) -- cycle;
\draw[collapsed,fill=white] (w2Apex) -- (820,1405) -- (820,1418) -- cycle;
\draw[collapsed,fill=white] (w3Apex) -- (776,1418) -- (776,1430) -- cycle;
\draw[collapsed,draw=cS,fill=cS] (cyApex) -- (781,1430) -- (781,1444) -- cycle;
\node[supval,text=cGR!60!black] (mag-s) at ($(magApex)+(30,0)$) {1.15};
\node[supval,text=treegray] (w1-s) at (w1Apex) {1.04};
\node[supval,text=treegray] (w2-s) at (w2Apex) {1.05};
\node[supval,text=treegray] (w3-s) at ($(w3Apex)+(14,0)$) {1.59};
\node[supval,text=cS!70!black] (cy-s) at ($(cyApex)+(58,0)$) {1.66};

% ---------------- right tree, inner nodes
\cl{b1}{768}{rt1}{cGRY}{rt2}{cGRY}{0.59}
\cl{b2}{755}{b1}{cGRY}{rt3}{cGRY}{0.5}
\cl{b3}{748}{b2}{cGRY}{rt4}{cGRY}{0.57}
\cl{b4}{744}{b3}{cGRY}{rt5}{cGRY}{0.57}
\cl{b5}{753}{rt6}{cGRY}{rt7}{cGRY}{0.5}
\cl{b6}{744}{b5}{cGRY}{rt8}{cGRY}{0.52}
\cl{b7}{738}{b4}{cGRY}{b6}{cGRY}{0.59}
\cl{b8}{760}{rt9}{cGRY}{rt10}{cGRY}{0.99}
\cl{b9}{752}{b8}{cGRY}{rt11}{cGRY}{0.49}
\cl{b10}{728}{b7}{cGRY}{b9}{cGRY}{0.65}
\cl{b11}{760}{rt12}{cGRY}{rt13}{cGRY}{0.43}
\cl{b12}{749}{b11}{cGRY}{rt14}{cGRY}{0.5}
\cl{b13}{723}{b10}{cGRY}{b12}{cGRY}{0.69}
\cl{b14}{768}{rt15}{cGRY}{rt16}{cGRY}{0.37}
\cl{b15}{753}{b14}{cGRY}{rt17}{cGRY}{0.48}
\cl{b16}{759}{rt18}{cGRY}{rt19}{cGRY}{0.46}
\cl{b17}{748}{b16}{cGRY}{rt20}{cGRY}{0.56}
\cl{b18}{740}{b15}{cGRY}{b17}{cGRY}{0.52}
\cl{b19}{758}{rt21}{cGRY}{rt22}{cGRY}{0.43}
\cl{b20}{740}{b19}{cGRY}{rt23}{cGRY}{0.6}
\cl{b21}{720}{b18}{cGRY}{b20}{cGRY}{0.78}
\cl{b22}{710}{b13}{cGRY}{b21}{cGRY}{0.71}
\cl{b23}{705}{b22}{cGRY}{rt24}{cGRY}{}
\cl{b24}{700}{b23}{cGRY}{rt25}{cGRY}{0.79}
\cl{b25}{681}{b24}{treegray}{rt26}{cGR}{0.99}
\cl{m1}{750}{rt27}{cGR}{rt28}{cGR}{0.5}
\cl{m2}{746}{m1}{cGR}{rt29}{cGR}{0.55}
\cl{m3}{732}{m2}{cGR}{rt30}{cGR}{0.62}
\cl{m4}{694}{m3}{cGR}{rt31}{cGR}{0.89}
\cl{m6}{682}{rt32}{cGR}{rt33}{cCNPR}{0.98}
\cl{m5}{677}{m4}{cGR}{m6}{cGR}{1.01}
\cl{m7}{682}{rt34}{cGR}{rt35}{cGR}{0.97}
\cl{m8}{670}{m5}{cGR}{m7}{cGR}{1.07}
\cl{m11}{666}{m8}{cGR}{rt36}{cGR}{1.06}
\cl{m9}{682}{rt37}{cGR}{rt38}{cGR}{0.97}
\cl{m10}{676}{m9}{cGR}{rt39}{cGR}{1.03}
\cl{m12}{670}{m10}{cGR}{rt40}{cGR}{1.11}
\cl{m13}{663}{m11}{treegray}{m12}{cGR}{1.1}
\cl{T1}{660}{b25}{treegray}{m13}{treegray}{}
\cl{n1}{693}{rt41}{cCNPR}{rt42}{cCNPR}{0.9}
\cl{n2}{677}{n1}{cCNPR}{rt43}{cGR}{1.02}
\cl{T2}{657}{T1}{treegray}{n2}{treegray}{1.19}
\cl{p1}{681}{rt44}{cGR}{rt45}{cGR}{0.98}
\cl{p2}{675}{p1}{cGR}{rt46}{cGR}{1.02}
\cl{T3}{655}{T2}{treegray}{p2}{cGR}{}
\cl{p4}{672}{rt47}{cGR}{rt48}{cGR}{1.06}
\cl{p3}{682}{rt49}{cGR}{rt50}{cGR}{0.96}
\cl{p5}{668}{p4}{cGR}{p3}{cGR}{1.06}
\cl{p6}{675}{rt51}{cGR}{rt52}{cGR}{1.03}
\cl{p7}{666}{p6}{cGR}{rt53}{cGR}{1.09}
\cl{p8}{661}{p5}{cGR}{p7}{cGR}{1.11}
\cl{p9}{658}{p8}{cGR}{rt54}{cGR}{1.17}
\cl{p10}{664}{rt55}{cGR}{rt56}{cGR}{1.1}
\cl{p11}{654}{p9}{cGR}{p10}{cGR}{1.16}
\cl{T4}{652}{T3}{treegray}{p11}{cGR}{}
\cl{L1}{748}{rt57}{cL3}{rt58}{cL3}{0.52}
\cl{L2}{740}{L1}{cL3}{rt59}{cL3}{0.56}
\cl{L3}{747}{rt60}{cL3}{rt61}{cL3}{0.53}
\cl{L4}{737}{L2}{cL3}{L3}{cL3}{0.59}
\cl{L5}{728}{L4}{cL3}{rt62}{cL3}{0.62}
\cl{L6}{720}{L5}{cL3}{rt63}{cL3}{0.66}
\cl{L7}{718}{L6}{cL3}{rt64}{cL3}{0.7}
\cl{L8}{716}{L7}{cL3}{rt65}{cL3}{0.74}
\cl{L9}{712}{L8}{cL3}{rt66}{cL3}{0.74}
\cl{L10}{734}{rt67}{cL3}{rt68}{cL3}{0.61}
\cl{L11}{707}{L9}{cL3}{L10}{cL3}{0.81}
\cl{L12}{704}{L11}{cL3}{rt69}{cL3}{0.79}
\cl{L13}{691}{rt70}{cL3}{rt71}{cL3}{0.92}
\cl{L14}{680}{L12}{cL3}{L13}{cL3}{0.96}
\cl{L15}{675}{L14}{cL3}{rt72}{cL3}{1}
\cl{L16}{677}{rt73}{cGR}{rt74}{cGR}{1.02}
\cl{L17}{665}{L15}{cL3}{L16}{cGR}{1.08}
\cl{L18}{669}{rt75}{cO}{rt76}{cGR}{1.07}
\cl{L19}{660}{L17}{cGR}{L18}{treegray}{1.12}
\cl{Q1}{649}{T4}{treegray}{L19}{treegray}{1.18}
\cl{c1}{750}{rt77}{cCNPR}{rt78}{cCNPR}{0.5}
\cl{c2}{694}{c1}{cCNPR}{rt79}{cCNPR}{0.89}
\cl{c3}{675}{c2}{cCNPR}{rt80}{cGR}{1.03}
\cl{c4}{668}{c3}{cGR}{rt81}{cGR}{1.1}
\cl{c5}{658}{rt82}{cCNPR}{rt83}{cCNPR}{1.15}
\cl{c6}{650}{c5}{cCNPR}{rt84}{cGR}{1.22}
\cl{c7}{646}{c4}{treegray}{c6}{cGR}{1.18}
\cl{Q2}{640}{Q1}{treegray}{c7}{treegray}{1.2}
\cl{a1}{744}{rt85}{cCNPR}{rt86}{cCNPR}{0.59}
\cl{a2}{682}{a1}{cCNPR}{rt87}{cO}{0.88}
\cl{a3}{729}{rt88}{cGR}{rt89}{cGR}{0.69}
\cl{a4}{718}{a3}{cGR}{rt90}{cGR}{0.72}
\cl{a5}{677}{a2}{treegray}{a4}{cGR}{1.01}
\cl{a6}{672}{a5}{cGR}{rt91}{cGR}{1.04}
\cl{a7}{666}{a6}{cGR}{rt92}{cGR}{1.08}
\cl{a8}{675}{rt93}{cGR}{rt94}{cGR}{1.09}
\cl{a9}{692}{rt95}{cGR}{rt96}{cGR}{0.91}
\cl{a10}{664}{a8}{cGR}{a9}{cGR}{1.19}
\cl{a11}{653}{a10}{cGR}{rt97}{cGR}{1.02}
\cl{g1}{708}{rt98}{cGR}{rt99}{cGR}{0.79}
\cl{g2}{688}{g1}{cGR}{rt100}{cGR}{0.93}
\cl{g3}{702}{rt101}{cGR}{rt102}{cGR}{0.94}
\cl{g4}{683}{g2}{cGR}{g3}{cGR}{0.98}
\cl{g5}{705}{rt103}{cGR}{rt104}{cGR}{0.82}
\cl{g6}{680}{g4}{cGR}{g5}{cGR}{0.95}
\cl{g7}{659}{g6}{cGR}{rt105}{cGR}{1.13}
\cl{g8}{656}{rt106}{cGR}{rt107}{cGR}{1.15}
\cl{g9}{652}{g7}{cGR}{g8}{cGR}{1.01}
\cl{g10}{649}{g9}{cGR}{rt108}{cGR}{}
\cl{g11}{645}{a11}{treegray}{g10}{cGR}{1.2}
\cl{Y}{641}{a7}{treegray}{g11}{treegray}{1.02}
\cl{X3}{633}{Q2}{treegray}{Y}{treegray}{1.29}
\cl{X2}{626}{X3}{treegray}{magApex}{cGR}{}
\cl{X1}{617}{X2}{treegray}{w1Apex}{treegray}{1.9}
\cl{X0}{603}{X1}{treegray}{w2Apex}{treegray}{1.69}
\cl{Rn1}{578}{X0}{treegray}{w3Apex}{treegray}{1.66}
\cl{RR}{553}{Rn1}{treegray}{cyApex}{cS}{1.86}

% ---------------- zoom lines from the collapsed GRY clade
\coordinate (gryEnd) at (303,14);
\coordinate (gryTop) at (733,13);
\coordinate (gryLow) at (638,1374);
\draw[zoomline] (gryEnd) -- (gryTop);
\draw[zoomline] (gryEnd) -- (gryLow);

% ---------------- clade braces, left
\draw[cladebrace] (449,27) -- (449,195);
\node[clade] (cGR1) at (461,111) {GR\\(B.1.1)};
\draw[cladebrace] (474,199) -- (474,255);
\node[clade] (cGV1) at (484,228) {GV\\(B.1.177)};
\draw[cladebrace] (531,304) -- (531,336);
\node[clade] (cGK1) at (541,320) {GK\\(AY \& B.1.617.2)};
\draw[cladebrace] (477,339) -- (477,441);
\node[clade] (cG1) at (487,393) {G\\(B.1)};
\draw[cladebrace] (359,457) -- (359,537);
\node[clade] (cG2) at (369,497) {G\\(B.1)};
\draw[cladebrace] (544,538) -- (544,760);
\node[clade] (cGH1) at (556,650) {GH\\(B.1)};
\draw[cladebrace] (527,788) -- (527,1072);
\node[clade] (cGH2) at (540,930) {GH\\(B.1)};
\draw[cladebrace] (368,1078) -- (368,1165);
\node[clade] (cV1) at (378,1121) {V (B)};
\draw[cladebrace] (340,1172) -- (340,1210);
\node[clade] (cO1) at (350,1190) {O (B)};
\draw[cladebrace] (477,1218) -- (477,1295);
\node[clade] (cL1) at (487,1256) {L (B)};
\draw[cladebrace] (478,1298) -- (478,1447);
\node[clade] (cS1) at (489,1373) {S (A)};

% ---------------- clade braces, right
\draw[cladebrace] (1012,8) -- (1012,320);
\node[clade] (cGRY) at (1023,167) {GRY\\(B.1.1.7)};
\draw[cladebrace] (1071,325) -- (1071,513);
\node[clade] (cR1) at (1083,425) {GR\\(B.1.1 \& R.1)};
\draw[cladebrace] (957,515) -- (957,538);
\node[clade] (cN5) at (966,527) {GR (N.5 \& N.3)};
\draw[cladebrace] (960,542) -- (960,715);
\node[clade] (cGR2) at (972,628) {GR\\(B.1.1)};
\draw[cladebrace] (985,722) -- (985,920);
\node[clade] (cL3) at (998,820) {GR\\(L.3)};
\draw[cladebrace] (1010,973) -- (1010,1010);
\node[clade] (cC36) at (1018,991) {GR\\(C.36 \& C.12)};
\draw[cladebrace] (888,1039) -- (888,1060);
\node[clade] (cC14) at (897,1050) {GR (C.14)};
\draw[cladebrace] (1014,1077) -- (1014,1096);
\node[clade] (cP2) at (1023,1086) {GR (P.2)};
\draw[cladebrace] (992,1117) -- (992,1375);
\node[clade] (cGR3) at (1005,1248) {GR\\(B.1.1)};

% ---------------- time axes and scale bars
\draw[axisline] (11,1472) -- (315,1472)
  (19,1472) -- (19,1475) (56,1472) -- (56,1475) (93,1472) -- (93,1475)
  (130,1472) -- (130,1475) (167,1472) -- (167,1475) (204,1472) -- (204,1475)
  (241,1472) -- (241,1475) (278,1472) -- (278,1475) (315,1472) -- (315,1475);
\node[axislab] (axL1) at (20,1483) {2019.5};
\node[axislab] (axL2) at (93,1483) {2020};
\node[axislab] (axL3) at (167,1483) {2020.5};
\node[axislab] (axL4) at (241,1483) {2021};
\node[axislab] (axL5) at (315,1483) {2021.5};
\draw[axisline] (545,1472) -- (841,1472)
  (555,1472) -- (555,1475) (591,1472) -- (591,1475) (627,1472) -- (627,1475)
  (662,1472) -- (662,1475) (698,1472) -- (698,1475) (734,1472) -- (734,1475)
  (770,1472) -- (770,1475) (805,1472) -- (805,1475) (841,1472) -- (841,1475);
\node[axislab] (axR1) at (555,1483) {019.5};
\node[axislab] (axR2) at (627,1483) {2020};
\node[axislab] (axR3) at (698,1483) {2020.5};
\node[axislab] (axR4) at (770,1483) {2021};
\node[axislab] (axR5) at (841,1483) {2021.5};
\draw[black!70,line width=1pt] (139,1457) -- (168,1457);
\node[axislab] (barL) at (153,1466) {0.2};
\draw[black!70,line width=1pt] (673,1457) -- (701,1457);
\node[axislab] (barR) at (687,1466) {0.2};

% ---------------- legend
\node[legbar,fill=legGRY] (kGRY) at (908,1388) {};
\node[legtext,text=legGRY] (tGRY) at (920,1387) {\scalebox{0.86}[1]{GRY (B.1.1.7)}};
\node[legbar,fill=legL3] (kL3) at (908,1407) {};
\node[legtext,text=legL3] (tL3) at (920,1406) {\scalebox{0.86}[1]{GR (L.3)}};
\node[legbar,fill=cG] (kG) at (908,1426) {};
\node[legtext,text=cG] (tG) at (920,1425) {\scalebox{0.86}[1]{G (B.1)}};
\node[legbar,fill=cS] (kS) at (908,1445) {};
\node[legtext,text=cS] (tS) at (920,1444) {\scalebox{0.86}[1]{S (A)}};
\node[legbar,fill=cCNPR] (kCNPR) at (908,1463) {};
\node[legtext,text=cCNPR] (tCNPR) at (920,1462) {\scalebox{0.86}[1]{GR (C, N, P, and R)}};
\node[legbar,fill=cGK] (kGK) at (908,1482) {};
\node[legtext,text=cGK] (tGK) at (920,1481) {\scalebox{0.86}[1]{GK (AY and B.1.617.2)}};
\node[legbar,fill=cGR] (kGR) at (1036,1389) {};
\node[legtext,text=cGR] (tGR) at (1048,1388) {\scalebox{0.86}[1]{GR (B.1.1)}};
\node[legbar,fill=cGH] (kGH) at (1036,1408) {};
\node[legtext,text=cGH] (tGH) at (1048,1407) {\scalebox{0.86}[1]{GH (B.1)}};
\node[legbar,fill=cV] (kV) at (1036,1427) {};
\node[legtext,text=cV] (tV) at (1048,1426) {\scalebox{0.86}[1]{V (B)}};
\node[legbar,fill=cL] (kL) at (1036,1445) {};
\node[legtext,text=cL] (tL) at (1048,1444) {\scalebox{0.86}[1]{L (B)}};
\node[legbar,fill=cGV] (kGV) at (1036,1464) {};
\node[legtext,text=cGV] (tGV) at (1048,1463) {\scalebox{0.86}[1]{GV (B.1.177)}};
\node[legbar,fill=legO] (kO) at (1036,1482) {};
\node[legtext,text=legO] (tO) at (1048,1481) {\scalebox{0.86}[1]{O (B)}};
\end{tikzpicture}
\end{document}
